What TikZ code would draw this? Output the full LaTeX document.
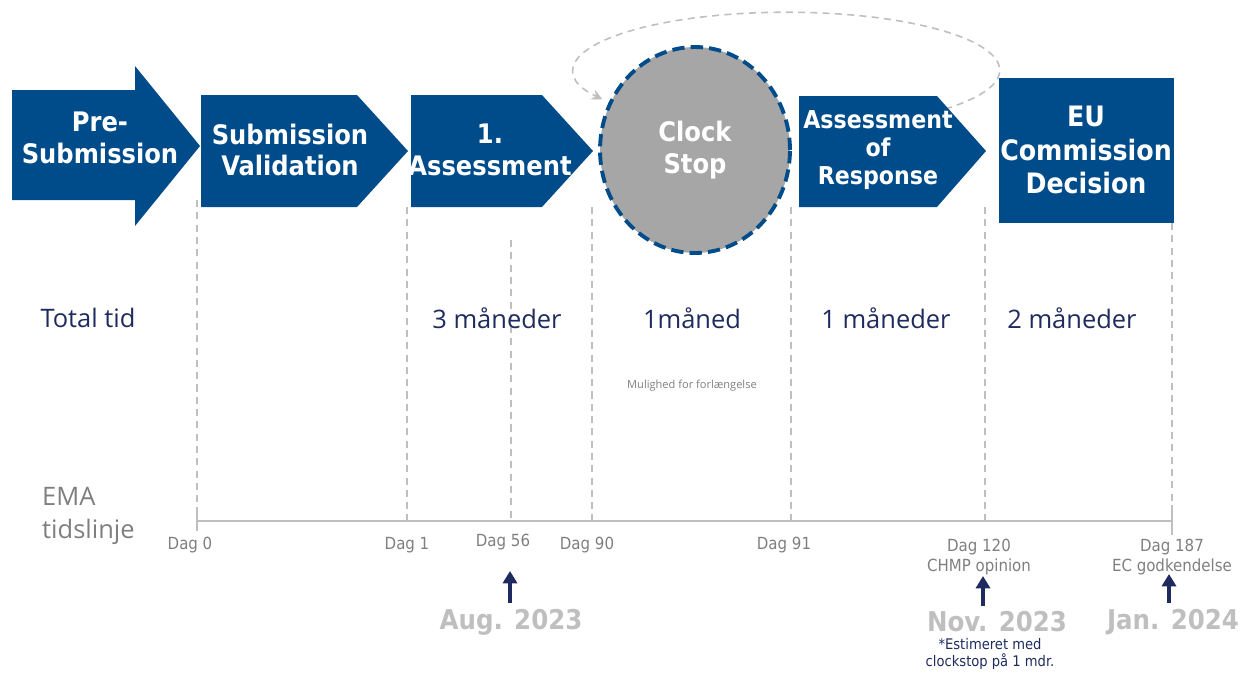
\documentclass[tikz,border=0pt]{standalone}
\usepackage{fontspec}
\setmainfont{Open Sans}
\newfontfamily\boxfont{DejaVu Sans Condensed}
\usetikzlibrary{arrows.meta}

\definecolor{emablue}{HTML}{004C8B}
\definecolor{navytxt}{HTML}{1F2B5E}
\definecolor{midgray}{HTML}{7F7F7F}
\definecolor{lightgray}{HTML}{BFBFBF}
\definecolor{stopgray}{HTML}{A6A6A6}

\tikzset{
  phase/.style={fill=emablue},
  boxtxt/.style={text=white, font=\boxfont\bfseries\fontsize{15.3}{18}\selectfont, align=center},
  guide/.style={lightgray, line width=0.6pt, dash pattern=on 4pt off 3pt},
  spantxt/.style={text=navytxt, font=\fontsize{14.5}{17}\selectfont},
  daglbl/.style={text=midgray, font=\boxfont\fontsize{9.5}{11.5}\selectfont, align=center},
  datelbl/.style={text=lightgray, font=\boxfont\bfseries\fontsize{15.5}{18}\selectfont},
  uparrow/.style={navytxt, line width=2.4pt, -{Triangle[length=7pt,width=8pt]}}
}

\begin{document}
\begin{tikzpicture}[x=0.02cm, y=-0.02cm]
  \useasboundingbox (0,0) rectangle (1252,674);

  % Chevron with left edge, shoulder and tip
  \def\chevron#1#2#3{(#1,95) -- (#2,95) -- (#3,151) -- (#2,207) -- (#1,207) -- cycle}

  % Guides down to the time line
  \draw[guide] (197,200) -- (197,521);
  \draw[guide] (407,207) -- (407,521);
  \draw[guide] (511,240) -- (511,521);
  \draw[guide] (592,207) -- (592,521);
  \draw[guide] (791,207) -- (791,521);
  \draw[guide] (985,207) -- (985,521);
  \draw[guide] (1172,223) -- (1172,521);

  % Clock stop
  \draw[emablue, fill=stopgray, line width=2.2pt, dash pattern=on 7pt off 3.5pt]
    (695,150) ellipse [x radius=1.9cm, y radius=2.06cm];
  \node[boxtxt] (clock) at (695,150) {Clock\\Stop};

  % Loop back to the clock stop
  \draw[lightgray, line width=0.9pt, dash pattern=on 4pt off 3pt, -{Stealth[length=6pt,width=6pt]}]
    (945,109) arc[start angle=-42, end angle=210, x radius=4.26cm, y radius=1.16cm];

  % Phases
  \fill[phase] (12,90) -- (135,90) -- (135,66) -- (200,146) -- (135,226) -- (135,200) -- (12,200) -- cycle;
  \fill[phase] \chevron{201}{357}{408};
  \fill[phase] \chevron{411}{542}{593};
  \fill[phase] (799,96) -- (937,96) -- (986,151) -- (937,207) -- (799,207) -- cycle;
  \fill[phase] (999,78) rectangle (1174,223);

  \node[boxtxt] (presub) at (100,138) {Pre-\\Submission};
  \node[boxtxt] (subval) at (290,150) {Submission\\Validation};
  \node[boxtxt] (assess1) at (490,150) {1.\\Assessment};
  \node[boxtxt, font=\boxfont\bfseries\fontsize{14}{16}\selectfont] (assessresp) at (878,150) {Assessment\\of\\Response};
  \node[boxtxt, font=\boxfont\bfseries\fontsize{16}{19}\selectfont] (eudec) at (1086,150) {EU\\Commission\\Decision};

  % Durations
  \node[spantxt] (total) at (88,318) {Total tid};
  \node[spantxt] (m3) at (497,318) {3 måneder};
  \node[spantxt] (m1a) at (692,318) {1måned};
  \node[spantxt] (m1b) at (886,318) {1 måneder};
  \node[spantxt] (m2) at (1072,318) {2 måneder};
  \node[text=midgray, font=\fontsize{6.3}{8}\selectfont] (mulig) at (692,386) {Mulighed for forlængelse};

  % Time line
  \node[text=midgray, font=\fontsize{14.5}{19}\selectfont, align=left, anchor=west] (ema) at (36,516) {EMA\\tidslinje};
  \draw[lightgray, line width=1.2pt] (197,521) -- (1172,521);
  \draw[lightgray, line width=0.8pt] (197,513) -- (197,531);
  \draw[lightgray, line width=0.8pt] (1172,505) -- (1172,535);

  \node[daglbl] (dag0) at (190,545) {Dag 0};
  \node[daglbl] (dag1) at (407,545) {Dag 1};
  \node[daglbl] (dag56) at (503,542) {Dag 56};
  \node[daglbl] (dag90) at (587,545) {Dag 90};
  \node[daglbl] (dag91) at (784,545) {Dag 91};
  \node[daglbl, anchor=north] (dag120) at (979,533) {Dag 120\\CHMP opinion};
  \node[daglbl, anchor=north] (dag187) at (1172,533) {Dag 187\\EC godkendelse};

  % Milestones
  \node[datelbl] (aug) at (511,622) {Aug. 2023};
  \node[datelbl] (nov) at (997,622) {Nov. 2023};
  \node[datelbl] (jan) at (1173,622) {Jan. 2024};
  \node[text=navytxt, font=\boxfont\fontsize{8.3}{10}\selectfont, align=center] (note) at (990,654) {*Estimeret med\\clockstop på 1 mdr.};

  \coordinate (up56) at (510,571);
  \coordinate (up120) at (983,576);
  \coordinate (up187) at (1169,574);
  \draw[uparrow] (aug.north -| up56) -- (up56);
  \draw[uparrow] (nov.north -| up120) -- (up120);
  \draw[uparrow] (jan.north -| up187) -- (up187);
\end{tikzpicture}
\end{document}
